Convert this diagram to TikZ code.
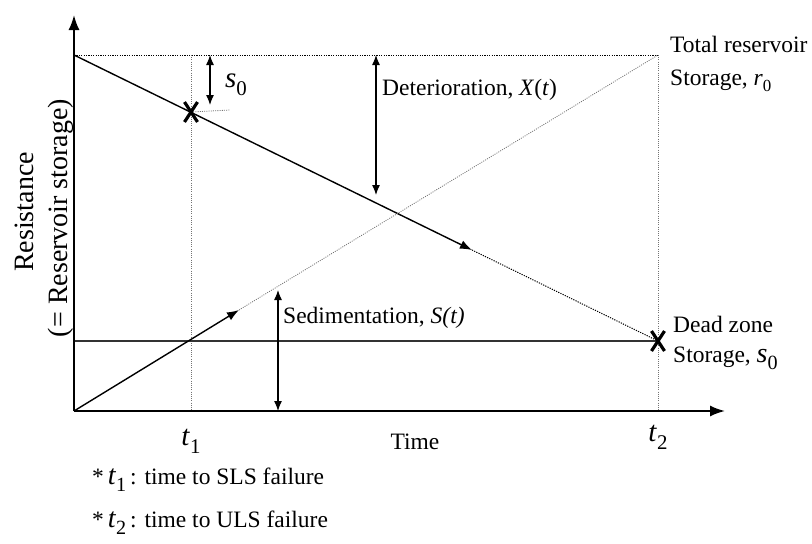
\documentclass[tikz,border=0pt]{standalone}
\usepackage{fontspec}
\setmainfont{Liberation Serif}
\usetikzlibrary{arrows.meta,calc,positioning}
\newcommand{\sbs}[1]{\raisebox{-0.28em}{\scalebox{0.72}{#1}}}
\definecolor{dotgray}{gray}{0.45}

\begin{document}
\begin{tikzpicture}[x=1pt,y=-1pt,
    every node/.style={inner sep=0pt,font=\fontsize{23.5}{26}\selectfont},
    axis/.style={line width=1.8pt,-{Latex[length=15pt,width=11pt]}},
    dimarrow/.style={line width=1.2pt,{Latex[length=10pt,width=8pt]}-{Latex[length=10pt,width=8pt]}},
    trend/.style={line width=1.4pt,-{Latex[length=12pt,width=9pt]}},
    guide/.style={dotgray,line width=0.8pt,dash pattern=on 1pt off 1.2pt},
    topline/.style={line width=1pt,dash pattern=on 1.2pt off 1.2pt},
    cross/.style={line width=3.2pt},
    big/.style={font=\fontsize{29}{32}\selectfont}]
    \useasboundingbox (0,0) rectangle (812,544);
    % axes and reference points
    \coordinate (O) at (74,411);
    \coordinate (ytop) at (74,15);
    \coordinate (xend) at (725,411);
    \coordinate (R) at (74,55);
    \coordinate (Rend) at (658,55);
    \coordinate (Dz) at (74,341);
    \coordinate (D) at (658,341);
    \coordinate (T1) at (191,411);
    \coordinate (T1top) at (191,55);
    \coordinate (T2) at (658,411);
    \coordinate (X1) at (191,112);
    \coordinate (xarr) at (472,250);
    \coordinate (sarr) at (239,310);
    % guides
    \draw[topline] (R) -- (Rend);
    \draw[guide] (T1top) -- (T1);
    \draw[guide] (Rend) -- (T2);
    \draw[guide] (X1) -- (230,110);
    % dead zone level
    \draw[line width=1.8pt,black!80] (Dz) -- (D);
    % deterioration and sedimentation
    \draw[trend] (R) -- (xarr);
    \draw[topline] (xarr) -- (D);
    \draw[trend] (O) -- (sarr);
    \draw[guide] (sarr) -- (Rend);
    % axes
    \draw[axis] (O) -- (ytop);
    \draw[axis] (O) -- (xend);
    % failure marks
    \draw[cross] ($(X1)+(-6.5,-10)$) -- ($(X1)+(6.5,10)$);
    \draw[cross] ($(X1)+(-6.5,10)$) -- ($(X1)+(6.5,-10)$);
    \draw[cross] ($(D)+(-6.5,-10)$) -- ($(D)+(6.5,10)$);
    \draw[cross] ($(D)+(-6.5,10)$) -- ($(D)+(6.5,-10)$);
    % dimension arrows
    \draw[dimarrow] (210,55) -- (210,105);
    \draw[dimarrow] (376,55) -- (376,195);
    \draw[dimarrow] (278,290) -- (278,411);
    % labels
    \node[big,anchor=base west] (s0lbl) at (225,87) {\textit{s}\sbs{0}};
    \node[anchor=base west] (detlbl) at (382,95) {Deterioration, \textit{X}(\textit{t})};
    \node[anchor=base west] (sedlbl) at (283,323) {Sedimentation, \textit{S(t)}};
    \node[anchor=base west] (totlbl) at (670,52) {Total reservoir};
    \node[anchor=base west] (r0lbl) at (670,85) {Storage, \textit{r}\sbs{0}};
    \node[anchor=base west] (deadlbl) at (673,332) {Dead zone};
    \node[anchor=base west] (dsslbl) at (673,362) {Storage, {\fontsize{28}{30}\selectfont\textit{s}\sbs{0}}};
    \node[big,anchor=base] (t1lbl) at (191,445) {\textit{t}\sbs{1}};
    \node[big,anchor=base] (t2lbl) at (658,441) {\textit{t}\sbs{2}};
    \node[anchor=base] (timelbl) at (415,449) {Time};
    \node[rotate=90,anchor=base,font=\fontsize{28}{30}\selectfont] (reslbl) at (33,212) {Resistance};
    \node[rotate=90,anchor=base,font=\fontsize{28}{30}\selectfont] (storlbl) at (67,218) {(= Reservoir storage)};
    \node[anchor=base west] (note1) at (92,484) {*\,{\fontsize{28}{30}\selectfont\textit{t}\sbs{1}}\,: time to SLS failure};
    \node[anchor=base west] (note2) at (92,527) {*\,{\fontsize{28}{30}\selectfont\textit{t}\sbs{2}}\,: time to ULS failure};
\end{tikzpicture}
\end{document}
